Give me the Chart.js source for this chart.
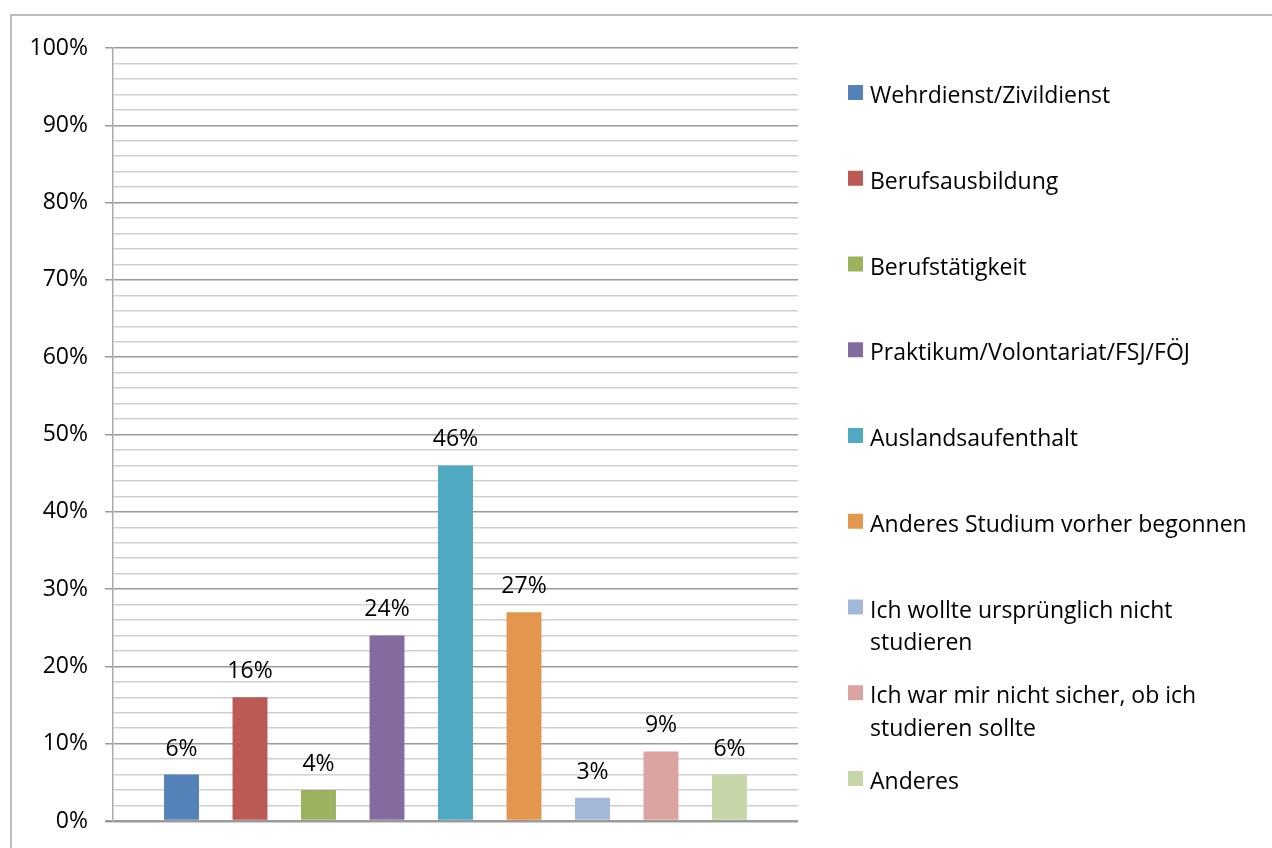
<!DOCTYPE html>
<html>
<head>
<meta charset="utf-8">
<script src="https://cdn.jsdelivr.net/npm/chart.js@4"></script>
<style>
  body { margin: 0; background: #fff; overflow: hidden; }
  #wrap { position: relative; width: 1272px; height: 848px; }
  #frame { position: absolute; left: 10px; top: 14px; width: 1300px; height: 900px; border: 2px solid #bcbcbc; box-sizing: border-box; }
  #chartCanvas { position: absolute; left: 0; top: 0; }
</style>
</head>
<body>
<div id="wrap">
  <div id="frame"></div>
  <canvas id="chartCanvas" width="1272" height="848"></canvas>
</div>
<script>
const categories = [''];
const seriesLabels = [
    ['Wehrdienst/Zivildienst'],
    ['Berufsausbildung'],
    ['Berufstätigkeit'],
    ['Praktikum/Volontariat/FSJ/FÖJ'],
    ['Auslandsaufenthalt'],
    ['Anderes Studium vorher begonnen'],
    ['Ich wollte ursprünglich nicht', 'studieren'],
    ['Ich war mir nicht sicher, ob ich', 'studieren sollte'],
    ['Anderes']
];
const seriesValues = [6, 16, 4, 24, 46, 27, 3, 9, 6];
const seriesColors = ['#5383b8', '#bb5a55', '#9bb35f', '#846ca0', '#4fa9c0', '#e2964e', '#a3b7d8', '#dba4a1', '#c7d6a8'];
const yMax = 100;
const yStep = 2;
const yLabelStep = 10;

const FONT = '"Open Sans", "DejaVu Sans", sans-serif';
const FONT_SIZE = 23;

// value labels above each bar
const barLabels = {
    id: 'barLabels',
    afterDatasetsDraw(chart) {
        const ctx = chart.ctx;
        ctx.save();
        ctx.font = FONT_SIZE + 'px ' + FONT;
        ctx.fillStyle = '#000';
        ctx.textAlign = 'center';
        ctx.textBaseline = 'alphabetic';
        chart.data.datasets.forEach((ds, i) => {
            const meta = chart.getDatasetMeta(i);
            meta.data.forEach((bar, j) => {
                ctx.fillText(ds.data[j] + '%', bar.x, bar.y - 19);
            });
        });
        ctx.restore();
    }
};

// legend on the right, one entry per dataset, evenly spaced
const sideLegend = {
    id: 'sideLegend',
    afterDraw(chart) {
        const ctx = chart.ctx;
        const left = chart.chartArea.right + 50;
        const top = 85;
        const gap = 85.75;
        const box = 15;
        const lineH = 32.7;
        ctx.save();
        ctx.font = FONT_SIZE + 'px ' + FONT;
        ctx.textAlign = 'left';
        ctx.textBaseline = 'alphabetic';
        chart.data.datasets.forEach((ds, i) => {
            const y = top + i * gap;
            ctx.fillStyle = ds.backgroundColor;
            ctx.fillRect(left, y, box, box);
            ctx.fillStyle = '#000';
            ds.labelLines.forEach((line, k) => {
                ctx.fillText(line, left + 22, y + 18 + k * lineH);
            });
        });
        ctx.restore();
    }
};

const datasets = seriesValues.map((v, i) => ({
    label: seriesLabels[i].join(' '),
    labelLines: seriesLabels[i],
    data: [v],
    backgroundColor: seriesColors[i],
    borderWidth: 0,
    categoryPercentage: 0.9,
    barPercentage: 0.51
}));

new Chart(document.getElementById('chartCanvas'), {
    type: 'bar',
    data: { labels: categories, datasets: datasets },
    options: {
        responsive: false,
        animation: false,
        devicePixelRatio: 1,
        layout: { padding: { left: 0, top: 48, right: 474, bottom: 27 } },
        plugins: {
            legend: { display: false },
            tooltip: { enabled: false }
        },
        scales: {
            x: { display: false },
            y: {
                min: 0,
                max: yMax,
                afterFit(scale) {
                    scale.width = 113;
                    scale.paddingTop = 0;
                    scale.paddingBottom = 0;
                },
                border: { display: true, color: '#aaaaaa', width: 1.5 },
                grid: {
                    color: c => c.tick.value % yLabelStep === 0 ? '#9a9a9a' : '#cfcfcf',
                    tickColor: c => c.tick.value % yLabelStep === 0 ? '#9a9a9a' : 'rgba(0,0,0,0)',
                    lineWidth: c => c.tick.value === 0 ? 2.5 : 1.5,
                    tickLength: 8
                },
                ticks: {
                    stepSize: yStep,
                    autoSkip: false,
                    padding: 17,
                    color: '#000',
                    font: { family: FONT, size: FONT_SIZE },
                    callback: v => v % yLabelStep === 0 ? v + '%' : ''
                }
            }
        }
    },
    plugins: [barLabels, sideLegend]
});
</script>
</body>
</html>
